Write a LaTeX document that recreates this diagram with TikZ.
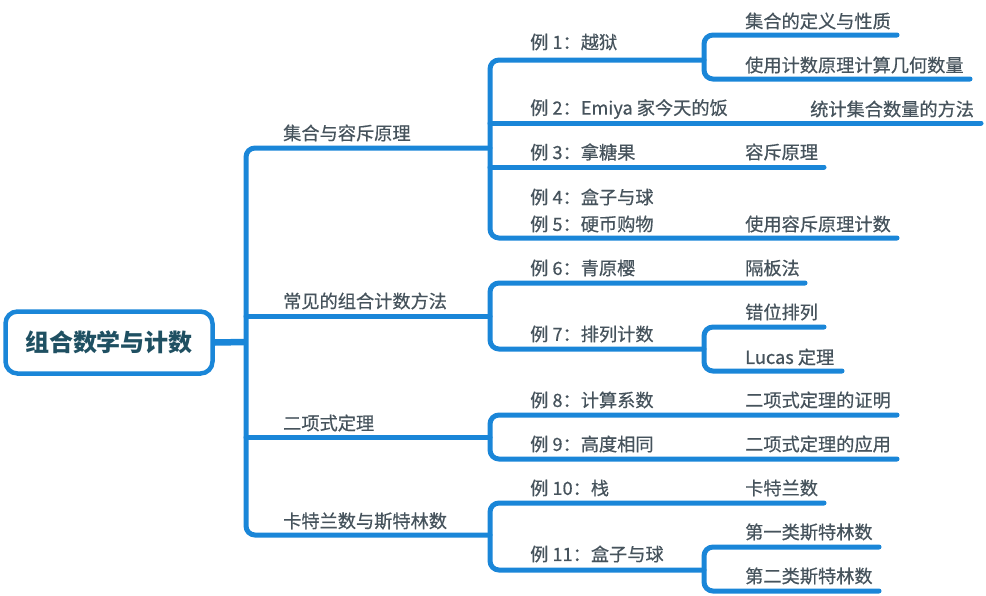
\documentclass[tikz,border=0pt]{standalone}
\usepackage{fontspec}
\newfontfamily\cjk{Noto Sans CJK SC}
\newfontfamily\cjkmed[FakeBold=0.6]{Noto Sans CJK SC}
\definecolor{linkblue}{HTML}{1A86D8}
\definecolor{topicgray}{HTML}{46535C}
\definecolor{rootteal}{HTML}{1F5062}

\tikzset{link/.style={draw=linkblue, line width=5pt, line cap=round, rounded corners=9pt},
         topic/.style={anchor=west, inner sep=0pt, text=topicgray, font=\cjkmed\fontsize{18.2}{22}\selectfont},
         roottopic/.style={draw=linkblue, line width=4.5pt, rounded corners=12pt, fill=white,
                           minimum width=207pt, minimum height=62pt, inner sep=0pt,
                           text=rootteal, font=\cjk\bfseries\fontsize{24}{28}\selectfont}}

\begin{document}
\begin{tikzpicture}[x=1pt, y=-1pt]
  \useasboundingbox (0,0) rectangle (986,595);
  \node[roottopic] (root) at (109,342.5) {组合数学与计数};

  \node[topic] (sets)    at (283,133) {集合与容斥原理};
  \node[topic] (methods) at (283,301) {常见的组合计数方法};
  \node[topic] (binom)   at (283,423) {二项式定理};
  \node[topic] (catstir) at (283,521) {卡特兰数与斯特林数};

  % group 1
  \node[topic] (ex1)  at (530,42)  {例 1：越狱};
  \node[topic] (ex2)  at (530,109) {例 2：Emiya 家今天的饭};
  \node[topic] (ex3)  at (530,152) {例 3：拿糖果};
  \node[topic] (ex4)  at (530,197) {例 4：盒子与球};
  \node[topic] (ex5)  at (530,224) {例 5：硬币购物};
  \node[topic] (def)  at (745,21)  {集合的定义与性质};
  \node[topic] (geo)  at (745,65)  {使用计数原理计算几何数量};
  \node[topic] (cnt)  at (810,109) {统计集合数量的方法};
  \node[topic] (incl) at (745,152) {容斥原理};
  \node[topic] (useincl) at (745,224) {使用容斥原理计数};

  % group 2
  \node[topic] (ex6)  at (530,268) {例 6：青原樱};
  \node[topic] (ex7)  at (530,334) {例 7：排列计数};
  \node[topic] (bars) at (745,268) {隔板法};
  \node[topic] (derange) at (745,312) {错位排列};
  \node[topic] (lucas)   at (745,357) {Lucas 定理};

  % group 3
  \node[topic] (ex8)  at (530,400) {例 8：计算系数};
  \node[topic] (ex9)  at (530,444) {例 9：高度相同};
  \node[topic] (proof) at (745,400) {二项式定理的证明};
  \node[topic] (apply) at (745,444) {二项式定理的应用};

  % group 4
  \node[topic] (ex10) at (530,488) {例 10：栈};
  \node[topic] (ex11) at (530,554) {例 11：盒子与球};
  \node[topic] (catalan) at (745,488) {卡特兰数};
  \node[topic] (stir1)   at (745,532) {第一类斯特林数};
  \node[topic] (stir2)   at (745,576) {第二类斯特林数};

  % hubs and line ends
  \coordinate (hub) at (246,342);
  \coordinate (g1) at (490,148);
  \coordinate (g2) at (490,316);
  \coordinate (g3) at (490,437);
  \coordinate (g4) at (490,535);
  \coordinate (s1)  at (704,60);
  \coordinate (s7)  at (704,349);
  \coordinate (s11) at (704,570);
  \coordinate (def-e) at (897,35);
  \coordinate (geo-e) at (970,79);
  \coordinate (cnt-e) at (981,123);
  \coordinate (incl-e) at (824,167);
  \coordinate (useincl-e) at (897,238);
  \coordinate (bars-e) at (805,283);
  \coordinate (derange-e) at (824,327);
  \coordinate (lucas-e) at (842,371);
  \coordinate (proof-e) at (897,415);
  \coordinate (apply-e) at (897,459);
  \coordinate (catalan-e) at (824,503);
  \coordinate (stir1-e) at (879,547);
  \coordinate (stir2-e) at (879,591);

  \draw[link, line width=6.5pt, line cap=butt] (root.east) -- (hub);
  \draw[link] (g1) -- (hub |- g1) -- (hub |- g4) -- (g4);
  \draw[link] (hub |- g2) -- (g2);
  \draw[link] (hub |- g3) -- (g3);

  \draw[link] (s1) -- (g1 |- s1) -- (g1 |- useincl-e) -- (useincl-e);
  \draw[link] (g1 |- cnt-e) -- (cnt-e);
  \draw[link] (g1 |- incl-e) -- (incl-e);
  \draw[link] (def-e) -- (s1 |- def-e) -- (s1 |- geo-e) -- (geo-e);

  \draw[link] (bars-e) -- (g2 |- bars-e) -- (g2 |- s7) -- (s7);
  \draw[link] (derange-e) -- (s7 |- derange-e) -- (s7 |- lucas-e) -- (lucas-e);

  \draw[link] (proof-e) -- (g3 |- proof-e) -- (g3 |- apply-e) -- (apply-e);

  \draw[link] (catalan-e) -- (g4 |- catalan-e) -- (g4 |- s11) -- (s11);
  \draw[link] (stir1-e) -- (s11 |- stir1-e) -- (s11 |- stir2-e) -- (stir2-e);
\end{tikzpicture}
\end{document}
